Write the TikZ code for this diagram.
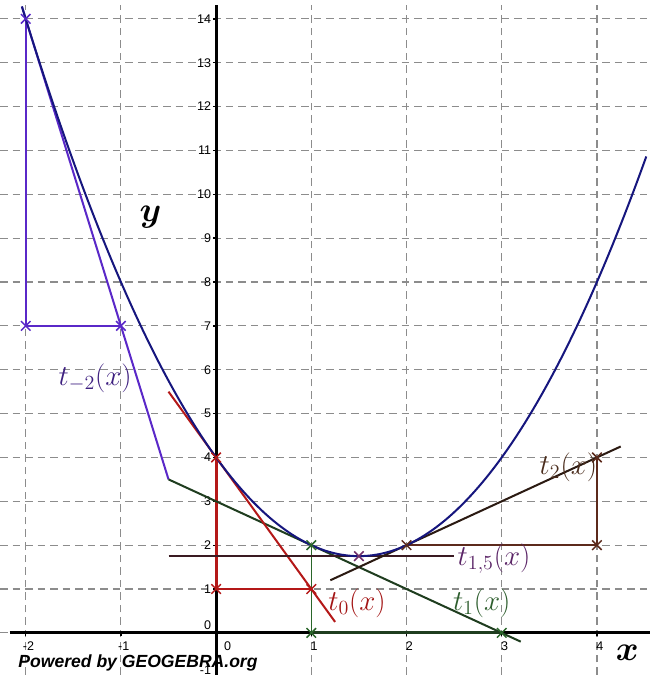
\documentclass[tikz,border=0pt]{standalone}
\usepackage{fontspec}
\newfontfamily\ggsans{Liberation Sans}
\usetikzlibrary{shapes.misc}
\definecolor{GridGray}{HTML}{8C8C8C}
\definecolor{CurveBlue}{HTML}{16167E}
\definecolor{TmTwo}{HTML}{5A28C8}
\definecolor{TmTwoLbl}{HTML}{3E2080}
\definecolor{TZero}{HTML}{B41818}
\definecolor{TZeroLbl}{HTML}{A31515}
\definecolor{TOne}{HTML}{1F3D1F}
\definecolor{TOneTri}{HTML}{2A662A}
\definecolor{TOneLbl}{HTML}{2E5E2E}
\definecolor{TFif}{HTML}{3A1A22}
\definecolor{TFifMark}{HTML}{70306A}
\definecolor{TFifLbl}{HTML}{5A2466}
\definecolor{TTwo}{HTML}{2B1A12}
\definecolor{TTwoTri}{HTML}{5C2A1C}
\definecolor{TTwoLbl}{HTML}{4A2C1C}

\begin{document}
\begin{tikzpicture}[x=2cm,y=0.9214cm]
    \tikzset{
      gridline/.style={GridGray,line width=0.7pt,dash pattern=on 4.5pt off 3pt},
      axis/.style={black,line width=1.8pt},
      tangent/.style={line width=1.2pt},
      ptmark/.style={cross out,draw,minimum size=4.8pt,inner sep=0pt,line width=0.9pt},
      ticklabel/.style={font=\ggsans\fontsize{7.5}{8}\selectfont,inner sep=0.5pt},
      tlabel/.style={font=\fontsize{17}{20}\selectfont,inner sep=0pt},
      axlabel/.style={font=\fontsize{21}{24}\selectfont\boldmath,inner sep=0pt}
    }
    \useasboundingbox (-2.27,-0.96) rectangle (4.557,14.43);
    % grid
    \foreach \k in {0,...,14}
      \draw[gridline] (-2.27,\k) -- (4.557,\k);
    \foreach \k in {-2,...,4}
      \draw[gridline] (\k,-0.96) -- (\k,14.32);
    % axes
    \draw[axis] (-2.17,0) -- (4.557,0);
    \draw[axis] (0,-0.96) -- (0,14.32);
    \foreach \k in {-2,-1,1,2,3,4}
      \draw[line width=0.8pt] (\k,0) -- (\k,-0.08);
    \foreach \k in {1,...,14}
      \draw[line width=0.8pt] (0,\k) -- (-0.03,\k);
    \foreach \k in {1,...,14}
      \node[ticklabel,anchor=east] (yt\k) at (-0.04,\k) {\k};
    \node[ticklabel,anchor=east] (yt0) at (-0.04,0.17) {0};
    \node[ticklabel,anchor=south east,inner sep=0pt] (ytneg) at (-0.05,-0.96) {-1};
    \foreach \k/\n in {-2/a,-1/b,1/d,2/e,3/f,4/g}
      \node[ticklabel] (xt\n) at (\k+0.03,-0.31) {\k};
    \node[ticklabel] (xtc) at (0.12,-0.31) {0};
    % points
    \coordinate (m2a) at (-2,14);
    \coordinate (m2b) at (-2,7);
    \coordinate (m2c) at (-1,7);
    \coordinate (z0a) at (0,4);
    \coordinate (z0b) at (0,1);
    \coordinate (z0c) at (1,1);
    \coordinate (o1a) at (1,2);
    \coordinate (o1b) at (1,0);
    \coordinate (o1c) at (3,0);
    \coordinate (h15) at (1.5,1.75);
    \coordinate (w2a) at (2,2);
    \coordinate (w2b) at (4,2);
    \coordinate (w2c) at (4,4);
    \coordinate (tm2s) at (-2.04,14.28);
    \coordinate (kink) at (-0.5,3.5);
    \coordinate (t1e) at (3.2,-0.2);
    \coordinate (t0s) at (-0.5,5.5);
    \coordinate (t0e) at (1.25,0.25);
    \coordinate (t15s) at (-0.5,1.75);
    \coordinate (t15e) at (2.5,1.75);
    \coordinate (t2s) at (1.2,1.2);
    \coordinate (t2e) at (4.25,4.25);
    % slope triangles
    \draw[TmTwo,line width=1pt] (m2a) -- (m2b);
    \draw[TmTwo,line width=1.2pt] (m2b) -- (m2c);
    \draw[TZero,line width=1.8pt] (z0a) -- (z0b);
    \draw[TZero,line width=0.8pt] (z0b) -- (z0c);
    \draw[TOneTri,line width=0.8pt] (o1a) -- (o1b);
    \draw[TOne,line width=1.8pt] (o1b) -- (o1c);
    \draw[TTwoTri,line width=0.9pt] (w2a) -- (w2b) -- (w2c);
    % tangents
    \draw[tangent,TmTwo] (tm2s) -- (kink);
    \draw[tangent,TOne] (kink) -- (t1e);
    \draw[tangent,TZero] (t0s) -- (t0e);
    \draw[tangent,TFif] (t15s) -- (t15e);
    \draw[tangent,TTwo] (t2s) -- (t2e);
    % f(x) = x^2 - 3x + 4
    \draw[CurveBlue,line width=1.2pt] plot[domain=-2.04:4.52,samples=120,smooth] (\x,{\x*\x-3*\x+4});
    \foreach \p/\c in {m2a/TmTwo,m2b/TmTwo,m2c/TmTwo,z0a/TZero,z0b/TZero,z0c/TZero,
        o1a/TOneTri,o1b/TOneTri,o1c/TOneTri,h15/TFifMark,w2a/TTwoTri,w2b/TTwoTri,w2c/TTwoTri}
      \node[ptmark,draw=\c] (\p x) at (\p) {};
    % labels
    \node[tlabel,text=TmTwoLbl] (lbltm2) at (-1.27,5.81) {$t_{-2}(x)$};
    \node[tlabel,text=TZeroLbl] (lblt0) at (1.48,0.68) {$t_0(x)$};
    \node[tlabel,text=TOneLbl] (lblt1) at (2.79,0.68) {$t_1(x)$};
    \node[tlabel,text=TFifLbl] (lblt15) at (2.92,1.69) {$t_{1{,}5}(x)$};
    \node[tlabel,text=TTwoLbl] (lblt2) at (3.70,3.78) {$t_2(x)$};
    \node[axlabel] (lbly) at (-0.69,9.48) {$y$};
    \node[axlabel] (lblx) at (4.32,-0.46) {$x$};
    \node[font=\ggsans\bfseries\itshape\fontsize{10.5}{12}\selectfont,anchor=west,inner sep=0pt] (gglogo) at (-2.08,-0.68) {Powered by GEOGEBRA.org};
  \end{tikzpicture}
\end{document}
